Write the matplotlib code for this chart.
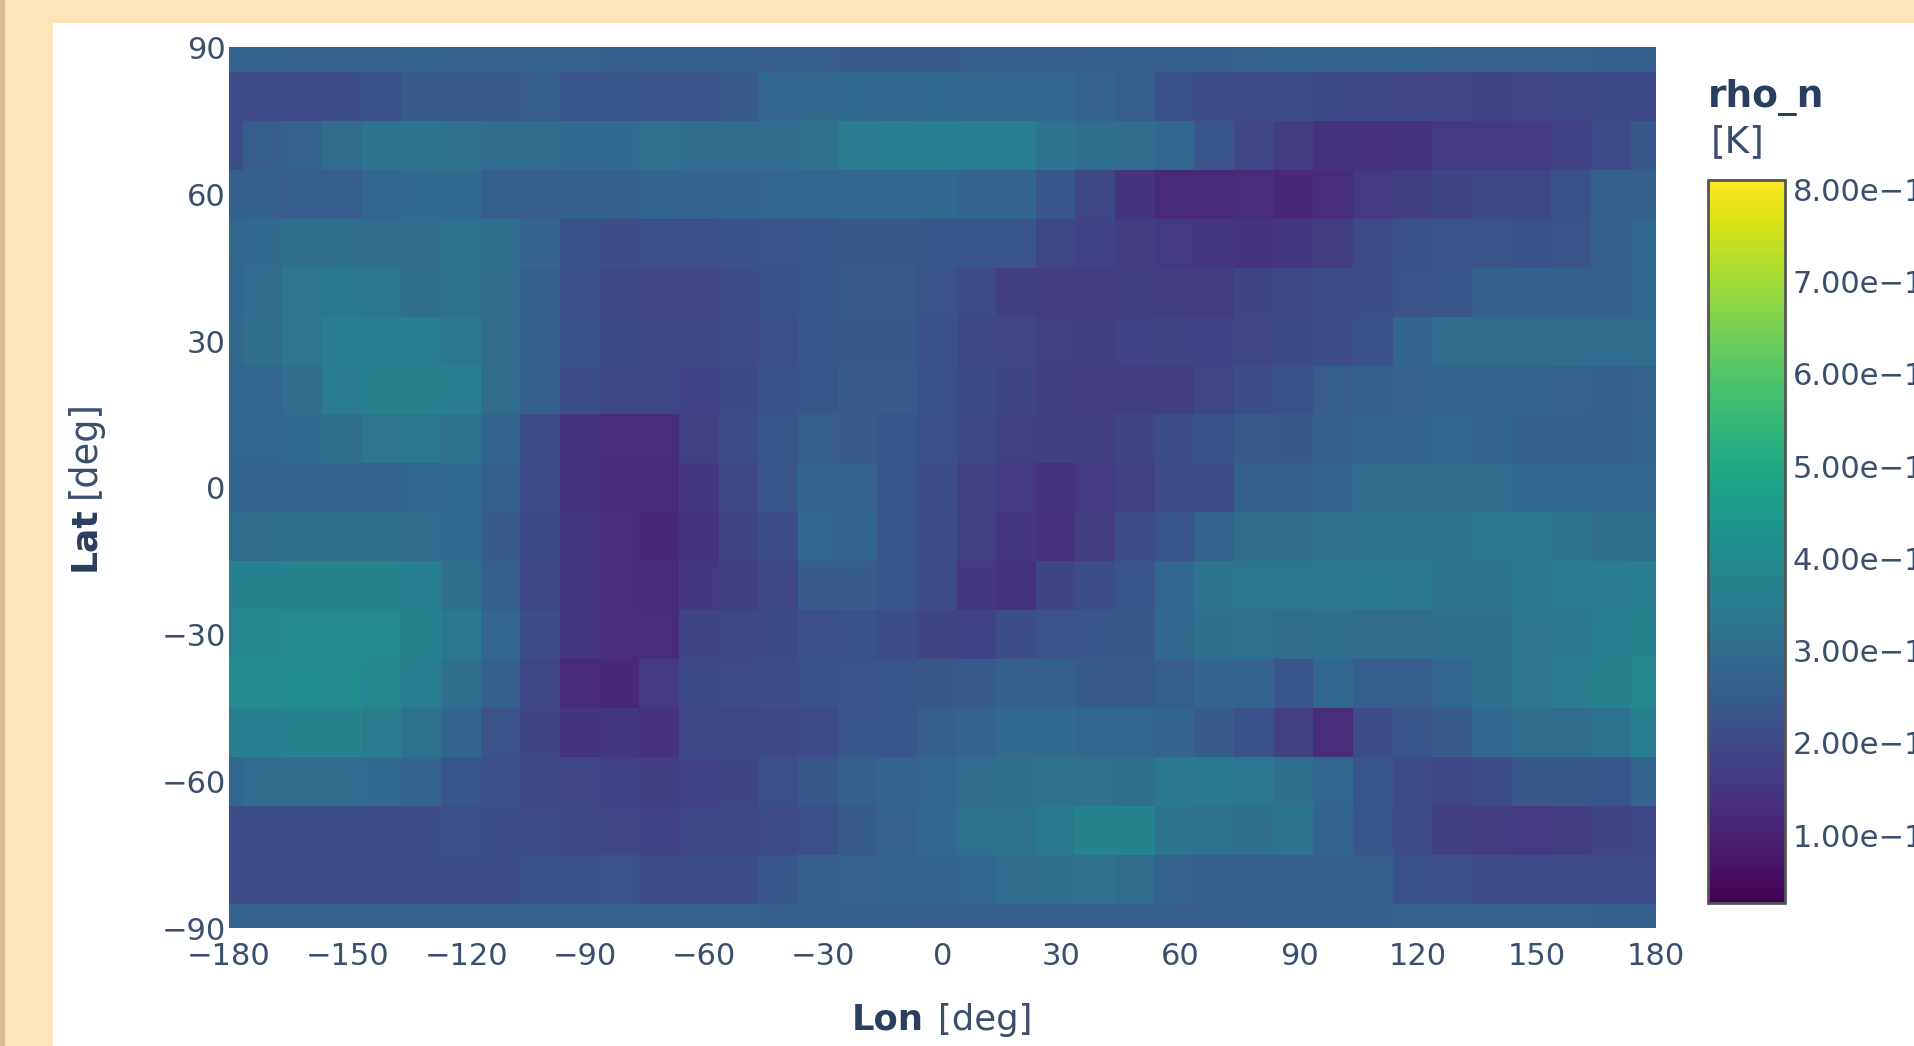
import numpy as np
import matplotlib
matplotlib.use("Agg")
import matplotlib.pyplot as plt
from matplotlib.patches import Rectangle
from matplotlib.colors import Normalize
from matplotlib.cm import ScalarMappable

W, H = 1915, 1046
INK = "#2a3f5f"

lon_edges = [-180, -176.4] + [-166.4 + 10 * i for i in range(34)] + [173.6, 180]
lat_edges = [90, 85, 75, 65, 55, 45, 35, 25, 15, 5, -5, -15, -25, -35, -45, -55, -65, -75, -85, -90]

lat_p90 = [2.75,2.75,2.7,2.7,2.7,2.75,2.7,2.7,2.7,2.7,2.65,2.6,2.6,2.6,2.55,2.55,2.5,2.5,2.5,2.55,2.55,2.55,2.6,2.6,2.65,2.65,2.7,2.8,2.75,2.75,2.75,2.7,2.7,2.7,2.7,2.65,2.65]
lat_p80 = [2.05,2.03,2.03,2.1,2.2,2.5,2.5,2.5,2.55,2.3,2.3,2.25,2.25,2.45,2.85,2.9,2.95,2.9,2.95,2.9,2.85,2.85,2.7,2.55,2.2,2.1,2.03,2.05,2.0,1.95,1.92,1.92,1.87,1.92,1.95,2.0,2.0]
lat_p70 = [2.05,2.55,2.7,3.0,3.25,3.25,3.15,3.05,3.0,2.95,2.95,3.15,3.05,3.0,3.0,3.15,3.5,3.6,3.6,3.6,3.55,3.25,3.1,3.0,2.85,2.3,1.92,1.67,1.42,1.38,1.42,1.58,1.58,1.62,1.82,2.03,2.4]
lat_p60 = [2.65,2.65,2.55,2.55,2.85,2.95,2.95,2.6,2.55,2.6,2.65,2.8,2.75,2.75,2.85,2.85,2.9,2.9,2.9,2.8,2.8,2.35,1.95,1.47,1.2,1.2,1.25,1.15,1.3,1.58,1.72,1.87,1.95,1.95,2.2,2.65,2.65]
lat_p50 = [2.9,2.95,3.1,3.1,3.0,3.0,3.2,3.1,2.75,2.2,2.05,2.15,2.15,2.2,2.25,2.3,2.4,2.4,2.35,2.35,2.3,1.95,1.82,1.67,1.58,1.52,1.47,1.52,1.67,2.03,2.2,2.25,2.25,2.2,2.25,2.6,2.9]
lat_p40 = [2.85,3.0,3.3,3.45,3.35,3.1,3.2,3.0,2.6,2.15,1.95,1.92,1.92,2.1,2.2,2.3,2.45,2.45,2.25,2.03,1.72,1.67,1.67,1.72,1.67,1.67,1.87,1.95,2.05,2.1,2.25,2.3,2.6,2.6,2.6,2.65,2.9]
lat_p30 = [2.9,3.1,3.3,3.55,3.6,3.55,3.4,3.0,2.6,2.2,2.0,1.95,1.95,2.03,2.15,2.3,2.4,2.4,2.2,1.95,1.92,1.77,1.72,1.82,1.87,1.82,1.92,2.0,2.05,2.2,2.8,3.0,3.0,3.0,3.0,3.0,3.0]
lat_p20 = [2.85,2.85,3.0,3.5,3.65,3.65,3.55,3.0,2.6,2.1,1.95,1.95,1.82,2.0,2.2,2.35,2.5,2.5,2.2,2.0,1.87,1.72,1.67,1.67,1.67,1.92,2.1,2.2,2.55,2.65,2.7,2.8,2.8,2.75,2.7,2.6,2.7]
lat_p10 = [2.85,2.85,2.95,3.1,3.3,3.35,3.2,2.8,2.05,1.47,1.25,1.25,1.77,2.05,2.3,2.55,2.45,2.35,2.15,1.95,1.77,1.72,1.72,1.87,2.1,2.2,2.45,2.4,2.65,2.8,2.8,2.9,2.8,2.65,2.65,2.65,2.8]
lat_000 = [2.8,2.8,2.8,2.75,2.75,2.85,2.95,2.65,2.03,1.42,1.2,1.2,1.52,1.95,2.3,2.8,2.75,2.3,2.1,1.77,1.58,1.42,1.58,1.77,2.05,2.1,2.6,2.55,2.75,3.0,3.0,3.05,3.0,2.9,2.85,2.85,2.85]
lat_m10 = [3.0,3.05,3.1,3.1,3.1,3.05,2.95,2.5,2.0,1.52,1.25,1.15,1.47,1.87,2.1,2.85,2.8,2.3,2.05,1.77,1.52,1.38,1.67,2.05,2.35,2.75,3.0,3.05,3.15,3.2,3.2,3.25,3.35,3.35,3.25,3.1,3.1]
lat_m20 = [3.75,3.7,3.7,3.7,3.7,3.6,3.1,2.6,1.95,1.52,1.25,1.2,1.52,1.72,1.95,2.5,2.5,2.3,2.05,1.52,1.42,1.87,2.1,2.3,2.85,3.25,3.35,3.35,3.4,3.45,3.4,3.25,3.25,3.4,3.5,3.5,3.6]
lat_m30 = [3.85,3.9,3.95,3.95,3.95,3.7,3.4,2.85,2.05,1.52,1.25,1.3,1.87,1.95,2.0,2.15,2.2,2.1,1.87,1.82,2.1,2.25,2.3,2.4,2.9,3.1,3.15,3.05,3.1,3.0,3.0,3.1,3.1,3.3,3.4,3.55,3.75]
lat_m40 = [4.0,4.0,4.1,4.05,3.85,3.55,3.1,2.6,1.95,1.2,1.15,1.62,2.0,2.03,2.05,2.2,2.25,2.3,2.4,2.45,2.6,2.65,2.45,2.45,2.55,2.8,2.75,2.3,2.9,2.55,2.55,2.85,3.1,3.3,3.5,3.65,3.85]
lat_m50 = [3.55,3.6,3.75,3.75,3.5,3.2,2.8,2.25,1.87,1.47,1.52,1.38,1.95,1.95,1.95,2.03,2.3,2.3,2.6,2.75,2.95,2.95,2.85,2.85,2.8,2.5,2.2,1.77,1.25,2.05,2.3,2.5,2.9,3.05,3.05,3.2,3.6]
lat_m60 = [2.85,3.0,3.0,3.0,2.95,2.75,2.35,2.15,1.95,1.92,1.82,1.72,1.82,1.87,2.15,2.4,2.65,2.75,2.85,3.05,3.1,3.15,3.15,3.1,3.4,3.45,3.35,3.1,2.85,2.3,2.03,1.95,2.1,2.4,2.4,2.35,2.75]
lat_m70 = [2.1,2.1,2.1,2.1,2.1,2.1,2.15,2.1,2.03,1.95,1.92,1.82,1.95,1.95,2.03,2.15,2.45,2.7,2.9,3.2,3.2,3.45,3.7,3.7,3.25,3.2,3.1,3.25,2.75,2.35,2.05,1.72,1.67,1.58,1.67,1.87,1.95]
lat_m80 = [2.1,2.1,2.1,2.1,2.1,2.1,2.1,2.1,2.2,2.2,2.25,2.1,2.1,2.1,2.35,2.6,2.7,2.75,2.8,2.85,3.0,3.1,3.15,3.0,2.7,2.6,2.55,2.6,2.6,2.65,2.2,2.15,2.1,2.03,2.03,2.03,2.03]
lat_m90 = [2.7,2.7,2.7,2.7,2.7,2.7,2.7,2.7,2.7,2.7,2.7,2.7,2.7,2.7,2.65,2.6,2.6,2.6,2.55,2.55,2.55,2.55,2.55,2.55,2.55,2.55,2.6,2.65,2.65,2.65,2.7,2.7,2.7,2.7,2.7,2.65,2.65]

rho_n = [lat_p90, lat_p80, lat_p70, lat_p60, lat_p50, lat_p40, lat_p30, lat_p20, lat_p10, lat_000,
         lat_m10, lat_m20, lat_m30, lat_m40, lat_m50, lat_m60, lat_m70, lat_m80, lat_m90]

lon_ticks = [-180, -150, -120, -90, -60, -30, 0, 30, 60, 90, 120, 150, 180]
lat_ticks = [-90, -60, -30, 0, 30, 60, 90]
cbar_ticks = [1, 2, 3, 4, 5, 6, 7, 8]
cbar_labels = ["1.00e\u221212", "2.00e\u221212", "3.00e\u221212", "4.00e\u221212",
               "5.00e\u221212", "6.00e\u221212", "7.00e\u221212", "8.00e\u221212"]
rho_min, rho_max = 0.27, 8.1

plt.rcParams["font.family"] = ["DejaVu Sans"]
fig = plt.figure(figsize=(W / 100, H / 100), dpi=100, facecolor="#FFE4BA")


def box(x0, y0, x1, y1):
    return [x0 / W, 1 - y1 / H, (x1 - x0) / W, (y1 - y0) / H]


fig.add_artist(Rectangle((0, 0), 5 / W, 1, transform=fig.transFigure, fc="#D9BC94", ec="none", zorder=-2))
fig.add_artist(Rectangle((53 / W, 0), 1, 1 - 23 / H, transform=fig.transFigure, fc="white", ec="none", zorder=-2))

ax = fig.add_axes(box(228.5, 47.5, 1656, 928.3))
ax.patch.set_alpha(0)
norm = Normalize(rho_min, rho_max)
mesh = ax.pcolormesh(lon_edges, lat_edges, np.array(rho_n), cmap="viridis", norm=norm,
                     edgecolors="face", linewidth=0.0, antialiased=False)
ax.set_xlim(-180, 180)
ax.set_ylim(-90, 90)
for s in ax.spines.values():
    s.set_visible(False)
ax.set_xticks(lon_ticks)
ax.set_yticks(lat_ticks)
ax.set_xticklabels([str(v).replace("-", "\u2212") for v in lon_ticks])
ax.set_yticklabels([str(v).replace("-", "\u2212") for v in lat_ticks])
ax.tick_params(axis="both", length=0, labelsize=22, labelcolor="#3a4e6e")
ax.tick_params(axis="x", pad=10)
ax.tick_params(axis="y", pad=2)


def t(x, y, s, **kw):
    fig.text(x / W, 1 - y / H, s, color=kw.pop("color", INK), **kw)


t(852, 1020, "Lon", fontsize=25.5, fontweight="bold", ha="left", va="center")
t(938, 1020, "[deg]", fontsize=25.5, ha="left", va="center", color="#3a4e6e")
t(84, 571, "Lat", fontsize=26, fontweight="bold", rotation=90, ha="center", va="bottom")
t(84, 498, "[deg]", fontsize=26.5, rotation=90, ha="center", va="bottom", color="#3a4e6e")
t(1708, 97, "rho_n", fontsize=27, fontweight="bold", ha="left", va="center")
t(1711, 142, "[K]", fontsize=27, ha="left", va="center", color="#3a4e6e")

cax = fig.add_axes(box(1708.5, 180, 1785, 902.5))
cb = fig.colorbar(ScalarMappable(norm=norm, cmap="viridis"), cax=cax)
cb.outline.set_edgecolor("#555555")
cb.outline.set_linewidth(2)
cb.set_ticks(cbar_ticks)
cb.set_ticklabels(cbar_labels)
cax.tick_params(length=0, labelsize=22, labelcolor="#3a4e6e", pad=5.5)

fig.savefig("out.png", dpi=100, facecolor=fig.get_facecolor())
